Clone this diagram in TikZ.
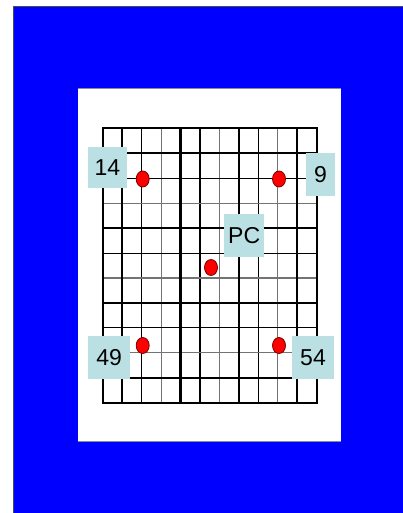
\documentclass[tikz,border=0pt]{standalone}
\usepackage{fontspec}
\setmainfont{Liberation Sans}
\usetikzlibrary{positioning,shapes.geometric}
\definecolor{sheetblue}{RGB}{0,0,255}
\definecolor{tagcyan}{RGB}{186,224,227}
\definecolor{stonerim}{RGB}{120,0,0}
\tikzset{
	tag/.style = {rectangle, fill=tagcyan, inner sep=0pt, font=\fontsize{23}{23}\selectfont},
	stone/.style = {ellipse, draw=stonerim, fill=red, line width=0.8, minimum width=13, minimum height=16, inner sep=0pt},
	bold line/.style = {line width=2.4},
	fine line/.style = {line width=1.1},
	grey line/.style = {line width=1.1, black!55}
}
\begin{document}
\begin{tikzpicture}[x=1pt,y=-1pt]
	\useasboundingbox (0,0) rectangle (403,513);
	\fill[white] (0,0) rectangle (403,513);
	\draw[fill=sheetblue, draw=black!70] (13,6) rectangle (404,514);
	\fill[white] (77.7,88) rectangle (340.5,442);
	\draw[black!45, line width=1.2] (77.7,88.5) -- (340.5,88.5);
	\draw[black!45, line width=1.2] (77.7,441.5) -- (340.5,441.5);
	% grid
	\foreach \i in {2,5,8} {
		\draw[fine line] ({102.7+\i*19.45},128.3) -- ({102.7+\i*19.45},402.7);
	}
	\foreach \i in {3,6,9} {
		\draw[grey line] ({102.7+\i*19.45},128.3) -- ({102.7+\i*19.45},402.7);
		\draw[grey line] (102.7,{128.3+\i*24.95}) -- (316.7,{128.3+\i*24.95});
	}
	\foreach \i in {2,5,8} {
		\draw[fine line] (102.7,{128.3+\i*24.95}) -- (316.7,{128.3+\i*24.95});
	}
	\foreach \i in {1,4,7,10} {
		\draw[bold line] ({102.7+\i*19.45},128.3) -- ({102.7+\i*19.45},402.7);
		\draw[bold line] (102.7,{128.3+\i*24.95}) -- (316.7,{128.3+\i*24.95});
	}
	\draw[bold line] (102.7,128.3) rectangle (316.7,402.7);
	% stones
	\node[stone] (s14) at (142.7,179) {};
	\node[stone] (s9) at (279,179) {};
	\node[stone] (spc) at (211,267.5) {};
	\node[stone] (s49) at (142.7,345.5) {};
	\node[stone] (s54) at (279,345.5) {};
	% tags
	\node[tag, minimum width=38.4, minimum height=41.6] (t14) at (107.5,167.5) {14};
	\node[tag, minimum width=29, minimum height=43.3] (t9) at (320.5,174.3) {9};
	\node[tag, minimum width=39.7, minimum height=42.4] (tpc) at (244.2,235.5) {PC};
	\node[tag, minimum width=41.7, minimum height=43] (t49) at (109.2,357.5) {49};
	\node[tag, minimum width=42.6, minimum height=43] (t54) at (313,357.5) {54};
\end{tikzpicture}
\end{document}
